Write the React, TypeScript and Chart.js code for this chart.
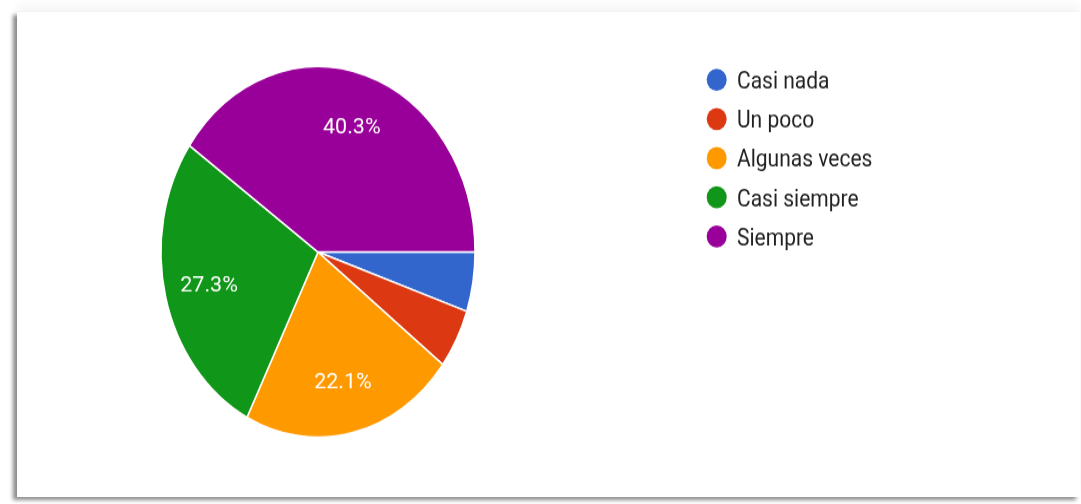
import React, { useEffect, useRef } from "react";
import { Chart, registerables } from "chart.js";

Chart.register(...registerables);

const categories = ["Casi nada", "Un poco", "Algunas veces", "Casi siempre", "Siempre"];
const responses = [4, 4, 17, 21, 31];
const sliceColors = ["#3366cc", "#dc3912", "#ff9900", "#109618", "#990099"];

const W = 1081;
const H = 504;
const K = 1.18; // vertical stretch of the reference picture
const CH = H / K;

const overlayPlugin = {
  id: "overlay",
  afterDatasetsDraw(chart: any) {
    const ctx = chart.ctx as CanvasRenderingContext2D;
    const meta = chart.getDatasetMeta(0);
    const data = chart.data.datasets[0].data as number[];
    const total = data.reduce((a, b) => a + b, 0);
    const fs = 21.5;
    meta.data.forEach((arc: any, i: number) => {
      const p = arc.getProps(["x", "y", "startAngle", "endAngle", "outerRadius"], true);
      const pct = (data[i] / total) * 100;
      if (pct < 8) return;
      const mid = (p.startAngle + p.endAngle) / 2;
      const px = p.x + Math.cos(mid) * p.outerRadius * 0.715;
      const py = p.y + Math.sin(mid) * p.outerRadius * 0.715;
      ctx.save();
      ctx.translate(px, py);
      ctx.scale(1, 1 / K);
      ctx.font = `${fs}px Roboto`;
      ctx.fillStyle = "#ffffff";
      ctx.textAlign = "center";
      ctx.textBaseline = "alphabetic";
      ctx.fillText(pct.toFixed(1) + "%", 0, 0.355 * fs);
      ctx.restore();
    });

    // legend
    const labels = chart.data.labels as string[];
    const colors = chart.data.datasets[0].backgroundColor as string[];
    const lfs = 21;
    labels.forEach((lab, i) => {
      const cy = 67.6 + i * 33.2;
      ctx.save();
      ctx.beginPath();
      ctx.ellipse(716.7, cy, 10, 9.4, 0, 0, Math.PI * 2);
      ctx.fillStyle = colors[i];
      ctx.fill();
      ctx.font = `${lfs}px Roboto`;
      ctx.fillStyle = "#222222";
      ctx.textAlign = "left";
      ctx.textBaseline = "alphabetic";
      ctx.fillText(lab, 737, cy + 0.355 * lfs);
      ctx.restore();
    });
  },
};

export default function App() {
  const ref = useRef<HTMLCanvasElement | null>(null);

  useEffect(() => {
    if (!ref.current) return;
    const chart = new Chart(ref.current, {
      type: "pie",
      data: {
        labels: categories,
        datasets: [
          {
            data: responses,
            backgroundColor: sliceColors,
            borderColor: "#ffffff",
            borderWidth: 1.5,
            hoverOffset: 0,
          },
        ],
      },
      options: {
        responsive: false,
        animation: false,
        rotation: 90,
        radius: 157,
        layout: {
          padding: { left: 161, right: W - 475, top: 213.6 - 157, bottom: CH - 213.6 - 157 },
        },
        plugins: {
          legend: { display: false },
          tooltip: { enabled: false },
        },
      } as any,
      plugins: [overlayPlugin],
    });
    return () => chart.destroy();
  }, []);

  return (
    <div
      style={{
        position: "absolute",
        left: 0,
        top: 0,
        width: W,
        height: H,
        background: "#ffffff",
        overflow: "hidden",
      }}
    >
      <div
        style={{
          position: "absolute",
          left: 17,
          top: 12,
          width: 1063,
          height: 485,
          background: "#ffffff",
          boxShadow: "-4px 3px 4px rgba(0,0,0,0.45), 0 -8px 8px rgba(0,0,0,0.035)",
        }}
      />
      <div
        style={{
          position: "absolute",
          left: 0,
          top: 0,
          width: W,
          height: CH,
          transform: `scaleY(${K})`,
          transformOrigin: "0 0",
        }}
      >
        <canvas ref={ref} width={W} height={Math.round(CH)} style={{ display: "block" }} />
      </div>
    </div>
  );
}
